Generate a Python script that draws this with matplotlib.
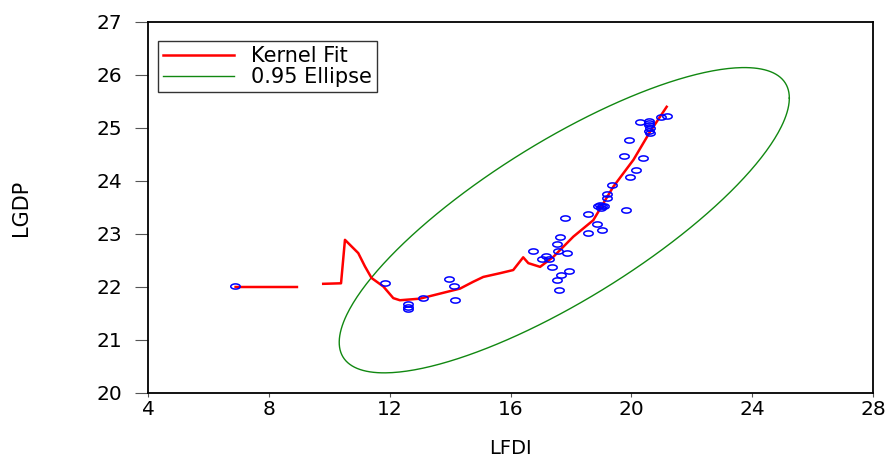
import numpy as np
import matplotlib
matplotlib.use("Agg")
import matplotlib.pyplot as plt
from matplotlib.path import Path

# scatter points
lfdi = [6.88, 11.85, 12.60, 12.60, 12.60, 13.09, 13.96, 14.12, 14.17, 16.76,
        17.03, 17.16, 17.27, 17.39, 17.53, 17.64, 17.58, 17.86, 17.67, 17.93,
        17.53, 17.62, 17.79, 18.56, 18.56, 18.88, 19.04, 18.89, 18.96, 19.04,
        19.10, 18.98, 19.18, 19.19, 19.36, 19.82, 19.96, 20.15, 19.76, 20.37,
        19.93, 20.29, 20.58, 20.60, 20.59, 20.62, 20.60, 20.63, 20.97, 21.17]
lgdp = [22.02, 22.07, 21.68, 21.63, 21.58, 21.79, 22.15, 22.01, 21.75, 22.68,
        22.52, 22.59, 22.53, 22.38, 22.82, 22.94, 22.68, 22.64, 22.22, 22.30,
        22.13, 21.95, 23.31, 23.37, 23.01, 23.19, 23.07, 23.52, 23.55, 23.52,
        23.53, 23.49, 23.67, 23.76, 23.93, 23.45, 24.08, 24.21, 24.47, 24.44,
        24.77, 25.12, 25.14, 25.10, 25.05, 25.00, 24.95, 24.91, 25.21, 25.22]

# kernel fit curve (gap between the two pieces)
kern_x = [6.90, 8.93, np.nan, 9.80, 10.39, 10.52, 10.96, 11.18, 11.40, 11.79,
          12.12, 12.34, 13.00, 14.33, 14.77, 15.10, 15.65, 16.09, 16.42, 16.59,
          16.98, 17.42, 18.08, 18.74, 19.40, 20.07, 20.62, 21.17]
kern_y = [22.00, 22.00, np.nan, 22.06, 22.07, 22.89, 22.64, 22.39, 22.17, 22.01,
          21.79, 21.75, 21.78, 21.97, 22.10, 22.19, 22.26, 22.32, 22.56, 22.45,
          22.38, 22.57, 22.95, 23.26, 23.89, 24.40, 24.93, 25.40]

# 0.95 ellipse: centre, half-extents, correlation
ell_cx, ell_cy = 17.78, 23.26
ell_ax, ell_ay = 7.45, 2.88
ell_rho = 0.80

FONT = "DejaVu Sans"
plt.rcParams["font.family"] = FONT

fig = plt.figure(figsize=(8.92, 4.62), dpi=100)
ax = fig.add_axes([148 / 892, 69 / 462, 725 / 892, 371 / 462])

t = np.linspace(0, 2 * np.pi, 400)
ex = ell_cx + ell_ax * np.cos(t)
ey = ell_cy + ell_ay * (ell_rho * np.cos(t) + np.sqrt(1 - ell_rho ** 2) * np.sin(t))

ax.plot(kern_x, kern_y, color="#ff0000", lw=1.8, label="Kernel Fit", zorder=3)
ax.plot(ex, ey, color="#118811", lw=1.0, label="0.95 Ellipse", zorder=2)

# squashed open circle marker
th = np.linspace(0, 2 * np.pi, 40)
oval = Path(np.column_stack([np.cos(th), 0.55 * np.sin(th)]))
ax.plot(lfdi, lgdp, ls="none", marker=oval, ms=6.8, mfc="none", mec="#0000ff",
        mew=1.1, zorder=4)

ax.set_xlim(4, 28)
ax.set_ylim(20, 27)
ax.set_xticks(range(4, 29, 4))
ax.set_yticks(range(20, 28))
ax.tick_params(axis="y", direction="out", length=9.5, width=0.8, color="#555555",
               pad=9, labelsize=14.5)
ax.tick_params(axis="x", direction="out", length=3, width=0.8, color="#555555",
               pad=2, labelsize=14.5)
for s in ax.spines.values():
    s.set_linewidth(1.3)
    s.set_color("black")

ax.set_xlabel("LFDI", fontsize=14)
ax.xaxis.set_label_coords(0.5, -0.125)
ax.set_ylabel("LGDP", fontsize=15, family="Liberation Sans Narrow")
ax.yaxis.set_label_coords(-0.162, 0.5)

leg = ax.legend(loc="upper left", bbox_to_anchor=(10 / 725, 1 - 19 / 371),
                fontsize=15, frameon=True, fancybox=False, borderpad=0.25,
                handlelength=3.4, handletextpad=0.8, labelspacing=0.05,
                borderaxespad=0)
leg.get_frame().set_edgecolor("black")
leg.get_frame().set_linewidth(1.0)

fig.savefig("out.png", dpi=100)
